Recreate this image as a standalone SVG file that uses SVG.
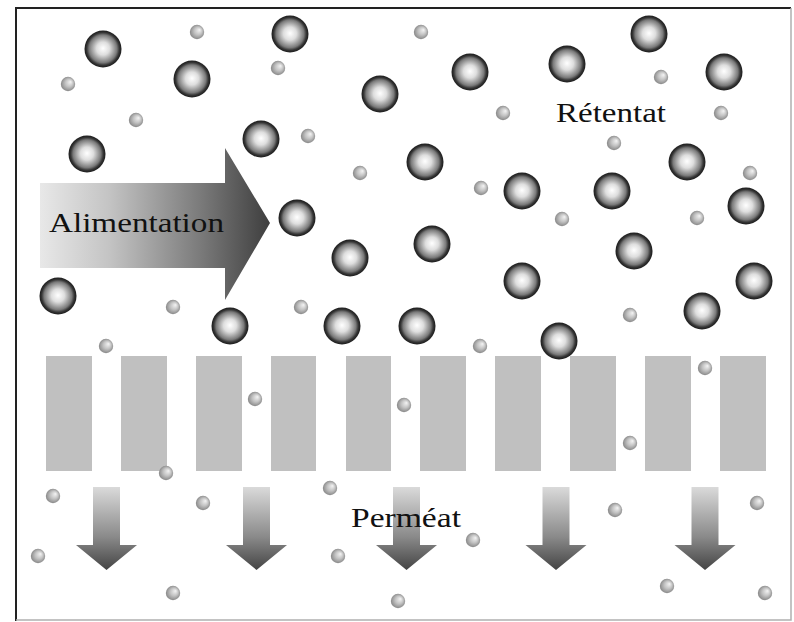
<svg xmlns="http://www.w3.org/2000/svg" width="794" height="622" viewBox="0 0 794 622">
  <defs>
    <radialGradient id="bigBall" cx="0.5" cy="0.5" r="0.5" fx="0.5" fy="0.48">
      <stop offset="0" stop-color="#ffffff"/>
      <stop offset="0.35" stop-color="#dedede"/>
      <stop offset="0.75" stop-color="#7a7a7a"/>
      <stop offset="0.88" stop-color="#363636"/>
      <stop offset="1" stop-color="#1a1a1a"/>
    </radialGradient>
    <radialGradient id="smallBall" cx="0.5" cy="0.5" r="0.55" fx="0.68" fy="0.35">
      <stop offset="0" stop-color="#f4f4f4"/>
      <stop offset="0.5" stop-color="#c2c2c2"/>
      <stop offset="1" stop-color="#808080"/>
    </radialGradient>
    <linearGradient id="feedGrad" x1="40" y1="0" x2="270" y2="0" gradientUnits="userSpaceOnUse">
      <stop offset="0" stop-color="#e8e8e8"/>
      <stop offset="0.3" stop-color="#c4c4c4"/>
      <stop offset="0.7" stop-color="#7a7a7a"/>
      <stop offset="1" stop-color="#3e3e3e"/>
    </linearGradient>
    <linearGradient id="permGrad" x1="0" y1="0" x2="0" y2="1">
      <stop offset="0" stop-color="#dadada"/>
      <stop offset="0.6" stop-color="#8a8a8a"/>
      <stop offset="1" stop-color="#444444"/>
    </linearGradient>
    <circle id="big" r="18.5" fill="url(#bigBall)"/>
    <circle id="small" r="7.2" fill="url(#smallBall)"/>
    <path id="permArrow" d="M-13.5,487 H13.5 V545 H30.5 L0,570 L-30.5,545 H-13.5 Z" fill="url(#permGrad)"/>
  </defs>
  <style>
    .label { font-family: "Liberation Serif", "DejaVu Serif", serif; font-size: 27px; fill: #111; }
    .pore { fill: #c0c0c0; }
  </style>

  <rect width="794" height="622" fill="#ffffff"/>

  <!-- frame: dark on left/top, light on right/bottom -->
  <g id="frame" fill="none">
    <path d="M16,621 V8 H791" stroke="#222" stroke-width="2"/>
    <path d="M791,8 V620 H16" stroke="#b0b0b0" stroke-width="1.5"/>
  </g>

  <!-- membrane -->
  <g id="membrane">
    <rect class="pore" x="46" y="356" width="46" height="115"/>
    <rect class="pore" x="121" y="356" width="46" height="115"/>
    <rect class="pore" x="196" y="356" width="46" height="115"/>
    <rect class="pore" x="271" y="356" width="45" height="115"/>
    <rect class="pore" x="346" y="356" width="45" height="115"/>
    <rect class="pore" x="420" y="356" width="46" height="115"/>
    <rect class="pore" x="495" y="356" width="46" height="115"/>
    <rect class="pore" x="570" y="356" width="46" height="115"/>
    <rect class="pore" x="645" y="356" width="46" height="115"/>
    <rect class="pore" x="720" y="356" width="46" height="115"/>
  </g>

  <!-- feed arrow -->
  <g id="feed">
    <path d="M40,183 H225 V148 L270,223 L225,300 V268 H40 Z" fill="url(#feedGrad)"/>
    <text class="label" x="49" y="232" textLength="175" lengthAdjust="spacingAndGlyphs">Alimentation</text>
  </g>

  <!-- permeate arrows -->
  <g id="permeate-arrows">
    <use href="#permArrow" x="106.5"/>
    <use href="#permArrow" x="256.5"/>
    <use href="#permArrow" x="406.5"/>
    <use href="#permArrow" x="556"/>
    <use href="#permArrow" x="705"/>
  </g>

  <!-- small solutes -->
  <g id="small-particles">
    <use href="#small" x="197" y="32"/>
    <use href="#small" x="68" y="84"/>
    <use href="#small" x="136" y="120"/>
    <use href="#small" x="278" y="68"/>
    <use href="#small" x="308" y="136"/>
    <use href="#small" x="360" y="173"/>
    <use href="#small" x="421" y="32"/>
    <use href="#small" x="503" y="113"/>
    <use href="#small" x="661" y="77"/>
    <use href="#small" x="721" y="113"/>
    <use href="#small" x="614" y="143"/>
    <use href="#small" x="481" y="188"/>
    <use href="#small" x="562" y="219"/>
    <use href="#small" x="697" y="218"/>
    <use href="#small" x="750" y="173"/>
    <use href="#small" x="173" y="307"/>
    <use href="#small" x="301" y="307"/>
    <use href="#small" x="630" y="315"/>
    <use href="#small" x="106" y="346"/>
    <use href="#small" x="480" y="346"/>
    <use href="#small" x="705" y="368"/>
    <use href="#small" x="255" y="399"/>
    <use href="#small" x="404" y="405"/>
    <use href="#small" x="630" y="443"/>
    <use href="#small" x="166" y="473"/>
    <use href="#small" x="53" y="496"/>
    <use href="#small" x="203" y="503"/>
    <use href="#small" x="330" y="488"/>
    <use href="#small" x="615" y="510"/>
    <use href="#small" x="757" y="503"/>
    <use href="#small" x="473" y="540"/>
    <use href="#small" x="38" y="556"/>
    <use href="#small" x="338" y="556"/>
    <use href="#small" x="667" y="586"/>
    <use href="#small" x="173" y="593"/>
    <use href="#small" x="398" y="601"/>
    <use href="#small" x="765" y="593"/>
  </g>

  <!-- retained macromolecules -->
  <g id="large-particles">
    <use href="#big" x="103" y="49"/>
    <use href="#big" x="192" y="79"/>
    <use href="#big" x="290" y="34"/>
    <use href="#big" x="380" y="94"/>
    <use href="#big" x="470" y="72"/>
    <use href="#big" x="567" y="64"/>
    <use href="#big" x="649" y="34"/>
    <use href="#big" x="724" y="72"/>
    <use href="#big" x="87" y="154"/>
    <use href="#big" x="261" y="139"/>
    <use href="#big" x="425" y="162"/>
    <use href="#big" x="522" y="191"/>
    <use href="#big" x="612" y="191"/>
    <use href="#big" x="687" y="162"/>
    <use href="#big" x="746" y="206"/>
    <use href="#big" x="297" y="218"/>
    <use href="#big" x="350" y="258"/>
    <use href="#big" x="432" y="244"/>
    <use href="#big" x="634" y="251"/>
    <use href="#big" x="522" y="281"/>
    <use href="#big" x="754" y="281"/>
    <use href="#big" x="58" y="296"/>
    <use href="#big" x="702" y="311"/>
    <use href="#big" x="230" y="326"/>
    <use href="#big" x="342" y="326"/>
    <use href="#big" x="417" y="326"/>
    <use href="#big" x="559" y="341"/>
  </g>

  <!-- stream labels -->
  <g id="labels">
    <text class="label" x="556" y="122" textLength="110" lengthAdjust="spacingAndGlyphs">Rétentat</text>
    <text class="label" x="351" y="527" textLength="110" lengthAdjust="spacingAndGlyphs">Perméat</text>
  </g>
</svg>
